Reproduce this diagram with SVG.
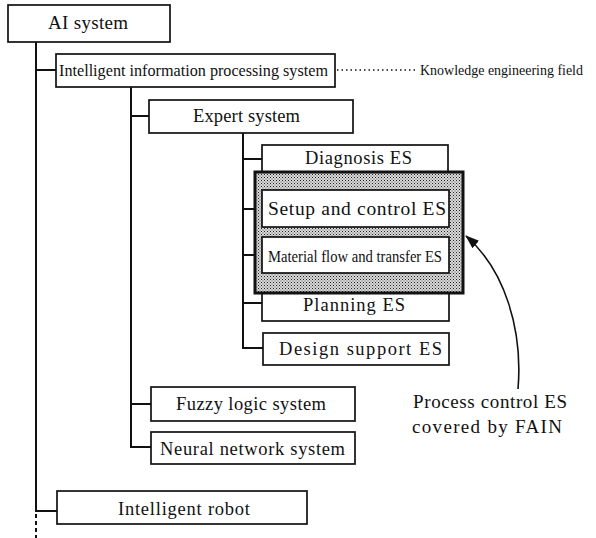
<svg xmlns="http://www.w3.org/2000/svg" width="596" height="538" viewBox="0 0 596 538">
<style>
.box{fill:#fff;stroke:#111;stroke-width:1.7}
.t{font-family:"Liberation Serif","Times New Roman",serif;fill:#111}
.ln{stroke:#111;stroke-width:2;fill:none}
</style>
<defs>
<pattern id="dots" width="3" height="3" patternUnits="userSpaceOnUse">
<rect width="3" height="3" fill="#d8d8d8"/>
<rect x="0" y="0" width="1" height="1" fill="#222"/>
<rect x="1.5" y="1.5" width="1" height="1" fill="#555"/>
</pattern>
<marker id="ah" markerWidth="14" markerHeight="10" refX="13" refY="5" orient="auto" markerUnits="userSpaceOnUse">
<path d="M0,0 L14,5 L0,10 Z" fill="#111"/>
</marker>
</defs>
<g id="connectors">
<path class="ln" d="M36,42 V511 H57"/>
<path class="ln" d="M36,514 V538" stroke-dasharray="4,3"/>
<path class="ln" d="M36,70 H56"/>
<path class="ln" d="M131,87 V447 H151"/>
<path class="ln" d="M131,116 H149"/>
<path class="ln" d="M131,404 H151"/>
<path class="ln" d="M243,133 V348 H263"/>
<path class="ln" d="M243,159 H262"/>
<path class="ln" d="M243,209 H262"/>
<path class="ln" d="M243,255 H262"/>
<path class="ln" d="M243,303 H262"/>
<path d="M337,70 H416" stroke="#111" stroke-width="1.6" stroke-dasharray="1.5,3" fill="none"/>
<path d="M518,389 C523,330 505,270 466,236" stroke="#111" stroke-width="1.6" fill="none" marker-end="url(#ah)"/>
</g>
<g id="ai-system">
<rect class="box" x="8" y="5" width="162" height="37"/>
<text class="t" x="48" y="29" font-size="19" textLength="80" lengthAdjust="spacing">AI system</text>
</g>
<g id="intelligent-info">
<rect class="box" x="56" y="54" width="279" height="33"/>
<text class="t" x="59" y="76" font-size="17.5" textLength="269" lengthAdjust="spacingAndGlyphs">Intelligent information processing system</text>
</g>
<g id="knowledge-label">
<text class="t" x="420" y="75" font-size="14" textLength="163" lengthAdjust="spacingAndGlyphs">Knowledge engineering field</text>
</g>
<g id="expert-system">
<rect class="box" x="149" y="100" width="204" height="33"/>
<text class="t" x="193" y="122" font-size="18.5" textLength="107" lengthAdjust="spacing">Expert system</text>
</g>
<g id="diagnosis-es">
<rect class="box" x="262" y="145" width="186" height="34"/>
<text class="t" x="305" y="164" font-size="18.5" textLength="107" lengthAdjust="spacing">Diagnosis ES</text>
</g>
<g id="planning-es">
<rect class="box" x="262" y="286" width="187" height="35"/>
<text class="t" x="303" y="311" font-size="18.5" textLength="102" lengthAdjust="spacing">Planning ES</text>
</g>
<g id="fain-group">
<rect x="255" y="172" width="208" height="121" fill="url(#dots)" stroke="#111" stroke-width="3"/>
</g>
<g id="setup-control-es">
<rect class="box" x="262" y="190" width="187" height="37"/>
<text class="t" x="268" y="215" font-size="19.5" textLength="178" lengthAdjust="spacing">Setup and control ES</text>
</g>
<g id="material-flow-es">
<rect class="box" x="262" y="237" width="187" height="36"/>
<text class="t" x="268" y="262" font-size="17" textLength="174" lengthAdjust="spacingAndGlyphs">Material flow and transfer ES</text>
</g>
<g id="design-support-es">
<rect class="box" x="263" y="333" width="186" height="32"/>
<text class="t" x="279" y="355" font-size="18.5" textLength="163" lengthAdjust="spacing">Design support ES</text>
</g>
<g id="fuzzy-logic">
<rect class="box" x="151" y="387" width="204" height="34"/>
<text class="t" x="176" y="410" font-size="18.5" textLength="150" lengthAdjust="spacing">Fuzzy logic system</text>
</g>
<g id="neural-network">
<rect class="box" x="151" y="432" width="204" height="32"/>
<text class="t" x="160" y="455" font-size="18.5" textLength="185" lengthAdjust="spacing">Neural network system</text>
</g>
<g id="intelligent-robot">
<rect class="box" x="57" y="491" width="250" height="33"/>
<text class="t" x="118" y="515" font-size="18.5" textLength="132" lengthAdjust="spacing">Intelligent robot</text>
</g>
<g id="fain-label">
<text class="t" x="413" y="408" font-size="19" textLength="154" lengthAdjust="spacing">Process control ES</text>
<text class="t" x="412" y="433" font-size="19" textLength="150" lengthAdjust="spacing">covered by FAIN</text>
</g>
</svg>
